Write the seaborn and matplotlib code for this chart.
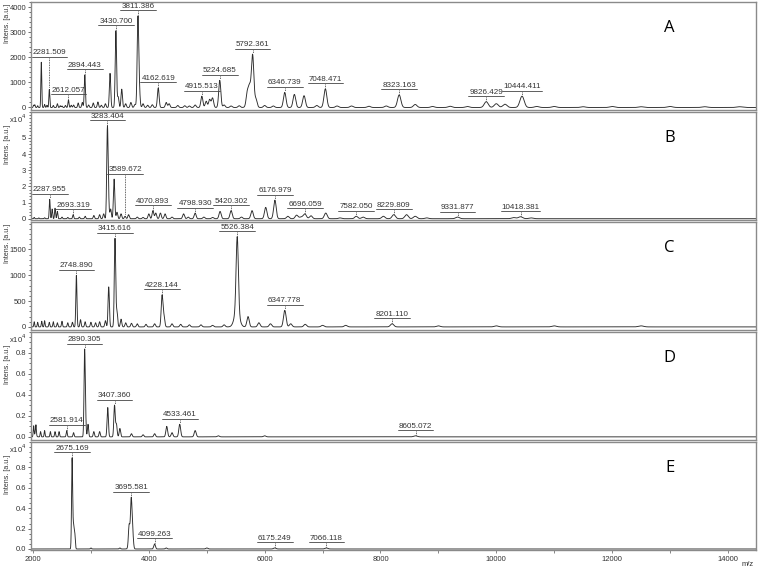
import numpy as np
import pandas as pd
import matplotlib
matplotlib.use("Agg")
import matplotlib.pyplot as plt
import seaborn as sns
from matplotlib.ticker import MultipleLocator, AutoMinorLocator

# === peak lists (m/z, intensity) ===
# A  (a.u.)
a_mz = [2010, 2030, 2080, 2143, 2200, 2240, 2281.509, 2350, 2420, 2470, 2500, 2560, 2612.057,
        2660, 2700, 2780, 2850, 2894.443, 2960, 3040, 3120, 3180, 3250, 3330, 3430.700, 3470,
        3532, 3600, 3690, 3760, 3811.386, 3835, 3900, 3980, 4060, 4162.619, 4300, 4350, 4500,
        4620, 4700, 4800, 4915.513, 4990, 5050, 5100, 5224.685, 5300, 5420, 5560, 5700, 5740,
        5792.361, 5850, 6000, 6150, 6346.739, 6513, 6680, 6900, 7048.471, 7250, 7500, 7800,
        8100, 8323.163, 8600, 8900, 9200, 9500, 9826.429, 10000, 10150, 10444.411, 10700,
        11000, 11500, 12000, 12500, 13000, 13600, 14200]
a_int = [90, 110, 70, 1800, 120, 90, 720, 80, 150, 70, 60, 80, 300,
         90, 100, 180, 200, 1300, 100, 180, 220, 90, 150, 1360, 3060, 420,
         730, 150, 200, 120, 3500, 650, 150, 90, 110, 780, 200, 150, 80,
         70, 60, 100, 450, 250, 320, 380, 1080, 100, 60, 70, 500, 600,
         1900, 300, 80, 60, 600, 520, 470, 80, 740, 60, 60, 50,
         60, 500, 120, 40, 50, 40, 230, 150, 130, 450, 40,
         40, 30, 40, 30, 40, 30, 30]
a_broad_mz = [5760]
a_broad_int = [250]
a_labels = ["2281.509", "2612.057", "2894.443", "3430.700", "3811.386", "4162.619",
            "4915.513", "5224.685", "5792.361", "6346.739", "7048.471", "8323.163",
            "9826.429", "10444.411"]

# B  (x10^4 a.u.)
b_mz = [2020, 2100, 2200, 2287.955, 2330, 2380, 2420, 2500, 2600, 2693.319, 2800, 2900,
        3050, 3150, 3220, 3283.404, 3300, 3340, 3400, 3450, 3520, 3589.672, 3650, 3800,
        3900, 4000, 4070.893, 4120, 4200, 4280, 4400, 4600, 4680, 4798.930, 4950, 5100,
        5230, 5420.302, 5600, 5782, 6018, 6176.979, 6400, 6550, 6696.059, 6800, 7055, 7300,
        7582.050, 7700, 8050, 8229.809, 8450, 8600, 8800, 9331.877, 10300, 10418.381, 10600]
b_int = [0.08, 0.05, 0.06, 1.2, 0.6, 0.65, 0.45, 0.1, 0.08, 0.25, 0.1, 0.15,
         0.2, 0.25, 0.3, 5.2, 1.4, 0.6, 2.45, 0.4, 0.3, 0.15, 0.25, 0.1,
         0.08, 0.3, 0.5, 0.35, 0.35, 0.3, 0.1, 0.3, 0.1, 0.35, 0.1, 0.08,
         0.45, 0.5, 0.1, 0.5, 0.7, 1.15, 0.15, 0.2, 0.22, 0.18, 0.35, 0.05,
         0.15, 0.1, 0.15, 0.25, 0.25, 0.15, 0.05, 0.1, 0.07, 0.12, 0.05]
b_broad_mz = [6650]
b_broad_int = [0.12]
b_labels = ["2287.955", "2693.319", "3283.404", "3589.672", "4070.893", "4798.930",
            "5420.302", "6176.979", "6696.059", "7582.050", "8229.809", "9331.877",
            "10418.381"]

# C  (a.u.)
c_mz = [2020, 2080, 2150, 2200, 2280, 2350, 2420, 2500, 2600, 2680, 2748.890, 2820, 2900,
        3000, 3080, 3150, 3250, 3307, 3415.616, 3450, 3520, 3600, 3700, 3800, 3950, 4100,
        4228.144, 4260, 4400, 4550, 4700, 4900, 5100, 5300, 5526.384, 5713, 5900,
        6100, 6347.778, 6450, 6700, 7000, 7400, 8201.110, 9000, 10000, 11000, 12500]
c_int = [100, 90, 110, 120, 90, 100, 80, 110, 80, 90, 1000, 140, 100,
         90, 80, 100, 120, 775, 1710, 300, 150, 80, 70, 60, 50, 60,
         600, 200, 60, 50, 40, 40, 30, 40, 1450, 200, 80,
         60, 320, 60, 50, 30, 30, 60, 20, 20, 20, 20]
c_broad_mz = [5520]
c_broad_int = [300]
c_labels = ["2748.890", "3415.616", "4228.144", "5526.384", "6347.778", "8201.110"]

# D  (x10^4 a.u.)
d_mz = [2010, 2050, 2130, 2200, 2300, 2380, 2450, 2581.914, 2700, 2890.305, 2905, 2950,
        3050, 3150, 3290, 3407.360, 3440, 3500, 3700, 3900, 4100, 4309, 4400, 4533.461,
        4800, 5200, 6000, 8605.072]
d_int = [0.1, 0.09, 0.05, 0.06, 0.05, 0.05, 0.05, 0.06, 0.04, 0.76, 0.2, 0.12,
         0.05, 0.05, 0.28, 0.30, 0.12, 0.08, 0.03, 0.02, 0.03, 0.1, 0.04, 0.12,
         0.06, 0.01, 0.01, 0.01]
d_broad_mz = [2040]
d_broad_int = [0.03]
d_labels = ["2581.914", "2890.305", "3407.360", "4533.461", "8605.072"]

# E  (x10^4 a.u.)
e_mz = [2675.169, 2700, 2720, 3000, 3500, 3660, 3695.581, 3720, 4099.263, 4300, 5000,
        6175.249, 7066.118]
e_int = [0.89, 0.21, 0.15, 0.01, 0.01, 0.22, 0.46, 0.15, 0.05, 0.01, 0.01, 0.01, 0.01]
e_broad_mz = [3680]
e_broad_int = [0.02]
e_labels = ["2675.169", "3695.581", "4099.263", "6175.249", "7066.118"]

panel_names = ["A", "B", "C", "D", "E"]
scaled = [False, True, False, True, True]
ytick_top = [4000, 5, 1500, 0.8, 0.8]

sns.set_theme(style="white")
plt.rcParams["font.family"] = ["Liberation Sans", "DejaVu Sans"]

XMIN, XMAX = 1965, 14485
grid = np.linspace(XMIN, XMAX, 9000)


def spectrum(mz, inten, broad_mz, broad_int):
    y = np.zeros_like(grid)
    for m, h in zip(mz, inten):
        y += h * np.exp(-0.5 * ((grid - m) / (0.0035 * m)) ** 2)
    for m, h in zip(broad_mz, broad_int):
        y += h * np.exp(-0.5 * ((grid - m) / (0.008 * m)) ** 2)
    return y


fig = plt.figure(figsize=(7.6, 5.71), dpi=100)
W, H = 760, 571
left_px, right_px = 31, 756
ax_h = 108

panels = [
    (a_mz, a_int, a_broad_mz, a_broad_int, a_labels, (-100, 4200), 1000, 5),
    (b_mz, b_int, b_broad_mz, b_broad_int, b_labels, (-0.08, 6.6), 1, 5),
    (c_mz, c_int, c_broad_mz, c_broad_int, c_labels, (-60, 2030), 500, 5),
    (d_mz, d_int, d_broad_mz, d_broad_int, d_labels, (-0.03, 1.0), 0.2, 4),
    (e_mz, e_int, e_broad_mz, e_broad_int, e_labels, (-0.01, 1.05), 0.2, 4),
]

for i, (mz, inten, bmz, bint, labels, ylim, major, nminor) in enumerate(panels):
    top = 2 + 110 * i
    ax = fig.add_axes([left_px / W, 1 - (top + ax_h) / H,
                       (right_px - left_px) / W, ax_h / H])
    y = spectrum(mz, inten, bmz, bint)
    df = pd.DataFrame({"mz": grid, "intensity": y})
    sns.lineplot(data=df, x="mz", y="intensity", ax=ax, color="#2b2b2b",
                 lw=0.65, estimator=None, sort=False, errorbar=None)
    ax.set_xlim(XMIN, XMAX)
    ax.set_ylim(*ylim)
    ax.set_xlabel("")
    ax.set_ylabel("Intens. [a.u.]", fontsize=5, color="#333")
    ax.yaxis.set_label_coords(-0.033, 0.985 if not scaled[i] else 0.88)
    ax.yaxis.label.set_ha("right")
    ax.yaxis.label.set_va("center")

    ax.set_yticks(np.arange(0, ytick_top[i] + major / 2, major))
    ax.yaxis.set_minor_locator(AutoMinorLocator(nminor))
    ax.xaxis.set_major_locator(MultipleLocator(2000))
    ax.xaxis.set_minor_locator(MultipleLocator(1000))
    ax.tick_params(axis="y", which="both", left=True, direction="out",
                   labelsize=5.5, width=0.5, color="#333", pad=1, labelcolor="#333")
    ax.tick_params(axis="y", which="major", length=2.5)
    ax.tick_params(axis="y", which="minor", length=1.2)
    if i < 4:
        ax.tick_params(axis="x", which="both", bottom=False, labelbottom=False)
    else:
        ax.tick_params(axis="x", which="both", bottom=True, direction="out",
                       labelsize=5.5, width=0.5, length=2, color="#555", pad=2,
                       labelcolor="#333")
    for s in ax.spines.values():
        s.set_color("#8a8a8a")
        s.set_linewidth(1.0)

    if scaled[i]:
        ax.text(-0.006, 0.995, "x10$^4$", transform=ax.transAxes, ha="right",
                va="top", fontsize=5.5, color="#333")

    ax.text(0.881, 0.76, panel_names[i], transform=ax.transAxes, ha="center",
            va="center", fontsize=12, family=["Open Sans", "DejaVu Sans"],
            color="black")

    # peak labels with underline and dotted lead
    dy = (ylim[1] - ylim[0]) / ax_h
    dx = (XMAX - XMIN) / (right_px - left_px)
    for lab in labels:
        m = float(lab)
        hw_px = len(lab) * 2.1 + 1
        hw = hw_px * dx
        h_peak = y[np.abs(grid - m) <= 15].max()
        h_loc = y[np.abs(grid - m) <= 0.8 * hw].max()
        y_ul = h_loc + 5.5 * dy
        ax.plot([m - hw, m + hw], [y_ul, y_ul], color="#444", lw=0.6)
        ax.text(m, y_ul + 0.6 * dy, lab, ha="center", va="bottom",
                fontsize=5.8, color="#333")
        if y_ul - h_peak > 2.5 * dy:
            ax.plot([m, m], [y_ul - 1 * dy, h_peak + 1 * dy], color="#333",
                    lw=0.6, ls=(0, (1, 1)))

fig.text(748 / W, 1 - 565 / H, "m/z", ha="center", va="center", fontsize=5.5,
         color="#333")

fig.savefig("out.png", dpi=100)
